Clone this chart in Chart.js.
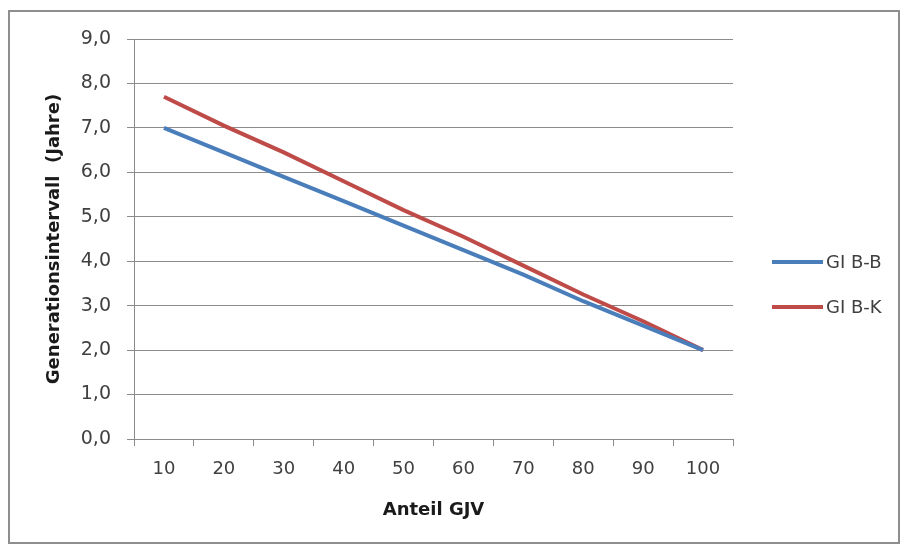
<!DOCTYPE html>
<html>
<head>
<meta charset="utf-8">
<script src="https://cdn.jsdelivr.net/npm/chart.js@4"></script>
<style>
  html, body { margin: 0; padding: 0; background: #ffffff; }
  #wrap { position: relative; width: 903px; height: 549px; overflow: hidden; background: #fff; }
  #frame { position: absolute; left: 8px; top: 10px; width: 892px; height: 534px; border: 2px solid #8e8e8e; box-sizing: border-box; pointer-events: none; }
  canvas { position: absolute; left: 0; top: 0; }
  #legend { position: absolute; left: 772px; top: 250px; font-family: "DejaVu Sans", sans-serif; font-size: 18px; color: #404040; }
  .item { position: absolute; left: 0; height: 24px; white-space: nowrap; }
  .swatch { position: absolute; left: 0; top: 10px; width: 51px; height: 4px; }
  .label { position: absolute; left: 54px; top: 0; line-height: 24px; }
</style>
</head>
<body>
<div id="wrap">
  <canvas id="c" width="903" height="549"></canvas>
  <div id="frame"></div>
  <div id="legend"></div>
</div>
<script>
const categories = ["10", "20", "30", "40", "50", "60", "70", "80", "90", "100"];
const seriesNames = ["GI B-B", "GI B-K"];
const giBB = [7.0, 6.45, 5.9, 5.35, 4.8, 4.25, 3.7, 3.1, 2.55, 2.0];
const giBK = [7.7, 7.05, 6.45, 5.8, 5.15, 4.55, 3.9, 3.25, 2.65, 2.0];
const yTicks = [0, 1, 2, 3, 4, 5, 6, 7, 8, 9];
const xTitle = "Anteil GJV";
const yTitle = "Generationsintervall  (Jahre)";

const colors = ["#4a7ebb", "#be4b48"];
const gridColor = "#8c8c8c";
const FONT = "'DejaVu Sans', sans-serif";

const chart = new Chart(document.getElementById('c'), {
  type: 'line',
  data: {
    labels: categories,
    datasets: [
      { label: seriesNames[0], data: giBB, borderColor: colors[0], backgroundColor: colors[0], borderWidth: 4, pointRadius: 0, tension: 0, fill: false },
      { label: seriesNames[1], data: giBK, borderColor: colors[1], backgroundColor: colors[1], borderWidth: 4, pointRadius: 0, tension: 0, fill: false }
    ]
  },
  options: {
    responsive: false,
    animation: false,
    events: [],
    layout: { padding: { left: 0, top: 39, right: 170, bottom: 0 } },
    plugins: { legend: { display: false }, tooltip: { enabled: false } },
    scales: {
      x: {
        type: 'category',
        offset: true,
        grid: { display: true, offset: true, drawOnChartArea: false, drawTicks: true, tickLength: 7, color: gridColor, lineWidth: 1 },
        border: { display: true, color: gridColor, width: 1 },
        ticks: { color: '#404040', font: { family: FONT, size: 18 }, padding: 13, maxRotation: 0, autoSkip: false },
        title: { display: true, text: xTitle, color: '#1a1a1a', font: { family: FONT, size: 18, weight: 'bold' }, padding: { top: 0, bottom: 28 } },
        afterFit: (s) => { s.height = 110; }
      },
      y: {
        min: 0, max: 9,
        afterBuildTicks: (s) => { s.ticks = yTicks.map(v => ({ value: v })); },
        grid: { display: true, drawOnChartArea: true, drawTicks: true, tickLength: 7, color: gridColor, lineWidth: 1 },
        border: { display: true, color: gridColor, width: 1 },
        ticks: { color: '#404040', font: { family: FONT, size: 19 }, padding: 16,
          callback: (v) => Number(v).toFixed(1).replace('.', ',') },
        title: { display: true, text: yTitle, color: '#1a1a1a', font: { family: FONT, size: 18, weight: 'bold' }, padding: { top: 44, bottom: 0 } },
        afterFit: (s) => { s.width = 134; }
      }
    }
  }
});

// HTML legend built from the chart's datasets
const legend = document.getElementById('legend');
chart.data.datasets.forEach((ds, i) => {
  const item = document.createElement('div');
  item.className = 'item';
  item.style.top = (i * 45) + 'px';
  const sw = document.createElement('div');
  sw.className = 'swatch';
  sw.style.background = ds.borderColor;
  const lb = document.createElement('div');
  lb.className = 'label';
  lb.textContent = ds.label;
  item.appendChild(sw);
  item.appendChild(lb);
  legend.appendChild(item);
});
</script>
</body>
</html>
